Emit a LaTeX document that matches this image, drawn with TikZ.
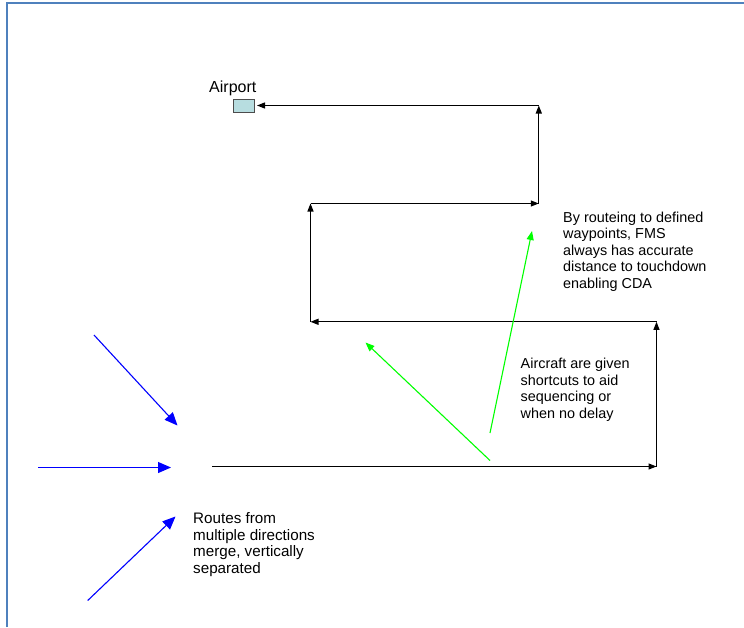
\documentclass[tikz,border=0pt]{standalone}
\usepackage{fontspec}
\setmainfont{Liberation Sans}
\usetikzlibrary{arrows.meta}
\definecolor{frameblue}{RGB}{79,129,189}
\definecolor{airportfill}{RGB}{183,221,224}
\definecolor{routegreen}{RGB}{0,255,0}
\tikzset{
  route/.style={draw=black, line width=1.1pt, -{Triangle[length=8pt,width=6pt]}},
  feeder/.style={draw=blue, line width=1.1pt, -{Triangle[length=13pt,width=11pt]}},
  shortcut/.style={draw=routegreen, line width=1.1pt, -{Triangle[length=9pt,width=7pt]}},
  note/.style={anchor=north west, inner sep=0pt, align=left,
    font=\fontsize{14.4}{16.6}\selectfont},
}
\begin{document}
\begin{tikzpicture}[x=1pt, y=-1pt]
  \useasboundingbox (0,0) rectangle (744,627);
  % frame along the top and left edge
  \draw[frameblue, line width=2pt] (6.7,627) -- (6.7,3) -- (744,3);

  % airport
  \node[draw=black!70, fill=airportfill, line width=0.8pt, minimum width=21pt,
        minimum height=13.5pt, inner sep=0pt] (apt) at (243.8,105.8) {};
  \node[anchor=base, inner sep=0pt, font=\fontsize{16}{18}\selectfont]
        (aptlabel) at (232.8,92.3) {Airport};

  % corners of the arrival route
  \coordinate (r0) at (212,466.5);
  \coordinate (r1) at (656.5,466.5);
  \coordinate (r2) at (656.5,321.8);
  \coordinate (r3) at (310.5,321.8);
  \coordinate (r4) at (310.5,203.5);
  \coordinate (r5) at (538.8,203.5);
  \coordinate (r6) at (538.8,105.5);
  \coordinate (r7) at (257,105.5);

  \draw[route] (r0) -- (r1);
  \draw[route] (r1) -- (r2);
  \draw[route] (r2) -- (r3);
  \draw[route] (r3) -- (r4);
  \draw[route] (r4) -- (r5);
  \draw[route] (r5) -- (r6);
  \draw[route] (r6) -- (r7);

  % feeder routes
  \coordinate (fa0) at (94,335);
  \coordinate (fa1) at (177.5,425.5);
  \coordinate (fb0) at (38.3,467.5);
  \coordinate (fb1) at (171,467.5);
  \coordinate (fc0) at (87.7,600.5);
  \coordinate (fc1) at (175.5,516.5);
  \draw[feeder] (fa0) -- (fa1);
  \draw[feeder] (fb0) -- (fb1);
  \draw[feeder] (fc0) -- (fc1);

  % shortcuts
  \coordinate (sa0) at (490,460.5);
  \coordinate (sa1) at (365.5,342.5);
  \coordinate (sb0) at (490,433);
  \coordinate (sb1) at (532,231);
  \draw[shortcut] (sa0) -- (sa1);
  \draw[shortcut] (sb0) -- (sb1);

  % notes
  \node[note] (fmsnote) at (563,211.5) {By routeing to defined\\waypoints, FMS\\always has accurate\\distance to touchdown\\enabling CDA};
  \node[note] (shortnote) at (520.5,358) {Aircraft are given\\shortcuts to aid\\sequencing or\\when no delay};
  \node[note, font=\fontsize{15.2}{16.6}\selectfont] (mergenote) at (193,512.5) {Routes from\\multiple directions\\merge, vertically\\separated};
\end{tikzpicture}
\end{document}
